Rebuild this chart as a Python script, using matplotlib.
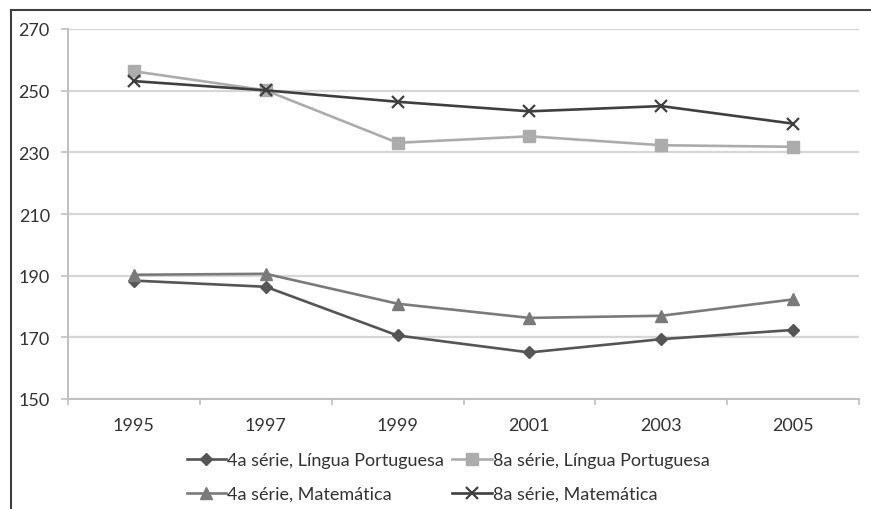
import matplotlib.pyplot as plt
from matplotlib.lines import Line2D

anos = ["1995", "1997", "1999", "2001", "2003", "2005"]
lp4 = [188.4, 186.4, 170.6, 165.1, 169.4, 172.4]
lp8 = [256.3, 250.1, 233.1, 235.2, 232.3, 231.8]
mat4 = [190.3, 190.6, 180.9, 176.3, 177.0, 182.3]
mat8 = [253.1, 250.1, 246.4, 243.3, 245.0, 239.3]

plt.rcParams['font.family'] = ['Lato', 'DejaVu Sans']

fig = plt.figure(figsize=(8.71, 5.10), dpi=100)
ax = fig.add_axes([68 / 871, 1 - 400 / 510, (859 - 68) / 871, 370 / 510])

x = list(range(len(anos)))
h1, = ax.plot(x, lp4, color="#555555", lw=1.9, marker="D", ms=6.5, label="4a série, Língua Portuguesa")
h2, = ax.plot(x, lp8, color="#acacac", lw=1.9, marker="s", ms=8.5, label="8a série, Língua Portuguesa")
h3, = ax.plot(x, mat4, color="#7a7a7a", lw=1.9, marker="^", ms=9, label="4a série, Matemática")
h4, = ax.plot(x, mat8, color="#3f3f3f", lw=1.9, marker="x", ms=9, mew=1.6, label="8a série, Matemática")

ax.set_xlim(-0.5, 5.5)
ax.set_ylim(150, 270)
ax.set_yticks(range(150, 271, 20))
ax.set_xticks(x)
ax.set_xticklabels(anos)
ax.set_xticks([i - 0.5 for i in range(len(anos) + 1)], minor=True)
ax.tick_params(axis="x", which="major", length=0, pad=13, labelsize=13, colors="#333333")
ax.tick_params(axis="x", which="minor", length=4, width=1.2, color="#c0c0c0")
ax.tick_params(axis="y", length=5, width=1.2, color="#c0c0c0", pad=8, labelsize=13, labelcolor="#333333")
ax.grid(axis="y", color="#d6d6d6", lw=1.6)
ax.set_axisbelow(True)
for s in ["top", "right"]:
    ax.spines[s].set_visible(False)
for s in ["left", "bottom"]:
    ax.spines[s].set_color("#c0c0c0")
    ax.spines[s].set_linewidth(1.4)

# ordem por linha: matplotlib preenche por coluna
fig.legend(handles=[h1, h3, h2, h4], loc="center", bbox_to_anchor=(448 / 871, 1 - 478 / 510),
           ncol=2, frameon=False, fontsize=13, handlelength=2.2, handletextpad=0.05,
           columnspacing=0.45, labelspacing=1.0, labelcolor="#333333")

# moldura externa
fig.add_artist(Line2D([11 / 871, 11 / 871], [0, 1 - 11 / 510], color="#404040", lw=1.5))
fig.add_artist(Line2D([11 / 871, 1], [1 - 11 / 510, 1 - 11 / 510], color="#404040", lw=1.5))

fig.savefig("out.png", dpi=100)
